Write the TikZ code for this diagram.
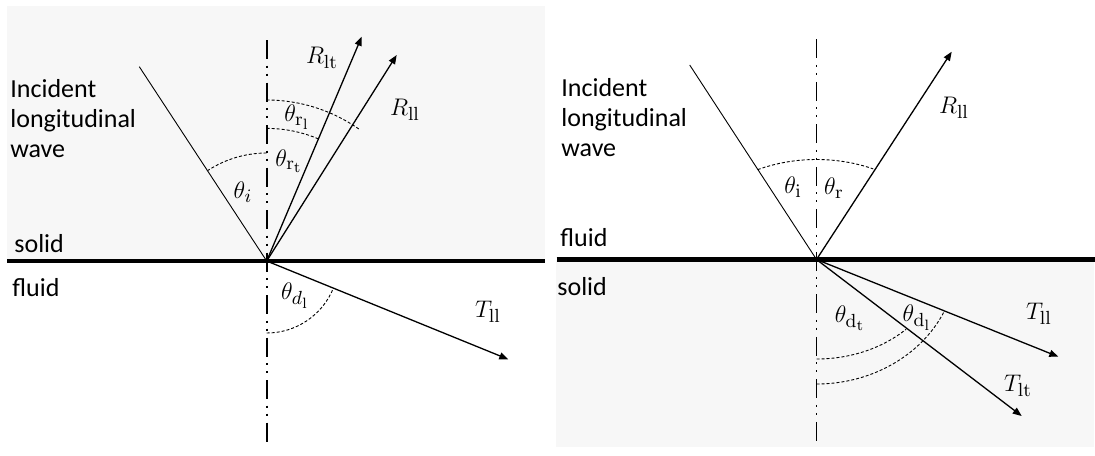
\RequirePackage{fix-cm}
\documentclass[tikz,border=0pt]{standalone}
\usepackage[no-math]{fontspec}
\setmainfont{Carlito}
\DeclareMathSizes{12}{12}{9.5}{7.5}
\usetikzlibrary{arrows.meta}

\begin{document}
\begin{tikzpicture}[
    x=0.5pt, y=-0.5pt,
    medium/.style={fill=gray!6, draw=none},
    interface/.style={line width=2.2pt},
    axisline/.style={
        line width=0.9pt,
        dash pattern=on 9.5pt off 3.25pt on 1pt off 3pt on 1pt off 3.5pt
    },
    incident/.style={line width=0.45pt},
    wave/.style={line width=0.65pt, -{Triangle[length=4.5pt,width=3.5pt]}},
    anglearc/.style={line width=0.45pt, dash pattern=on 1.5pt off 1pt},
    txt/.style={font=\fontsize{13}{15}\selectfont, inner sep=0pt},
    sym/.style={font=\fontsize{12}{15}\selectfont, inner sep=0pt}
]
\useasboundingbox (0,0) rectangle (1095,455);

% ---------------------------------------------------------------------------
% Left panel -- solid above, fluid below
% ---------------------------------------------------------------------------
\fill[medium] (7,6) rectangle (545,261);

\coordinate (O1) at (266.7,261);
\coordinate (inc1) at (139.3,66.7);
\coordinate (Rlt1) at (361.7,36.7);
\coordinate (Rll1) at (396.7,55);
\coordinate (Tll1) at (508.3,359.3);
\coordinate (top1) at (266.7,40);
\coordinate (bot1) at (266.7,447);
\coordinate (lft1) at (7,261);
\coordinate (rgt1) at (545,261);

\draw[axisline] (top1) -- (bot1);
\draw[interface] (lft1) -- (rgt1);

\draw[incident] (inc1) -- (O1);
\draw[wave] (O1) -- (Rlt1);
\draw[wave] (O1) -- (Rll1);
\draw[wave] (O1) -- (Tll1);

% angle arcs
\draw[anglearc] (O1) ++(-90:108) arc[start angle=-90, end angle=-123, radius=108];
\draw[anglearc] (O1) ++(-90:161) arc[start angle=-90, end angle=-54.5, radius=161];
\draw[anglearc] (O1) ++(-90:132.6) arc[start angle=-90, end angle=-67, radius=132.6];
\draw[anglearc] (O1) ++(90:72) arc[start angle=90, end angle=22, radius=72];

% labels
\node[txt, align=left, anchor=north west] (wave1) at (10,79)
    {Incident\\longitudinal\\wave};
\node[txt, anchor=base west] (solid1) at (14,252) {solid};
\node[txt, anchor=base west] (fluid1) at (12,296) {fluid};

\node[sym] (thi1) at (243,192) {$\theta_i$};
\node[sym] (thrl1) at (297,117) {$\theta_{\mathrm{r}_\mathrm{l}}$};
\node[sym] (thrt1) at (289,161) {$\theta_{\mathrm{r}_\mathrm{t}}$};
\node[sym] (thdl1) at (295,296) {$\theta_{d_\mathrm{l}}$};
\node[sym] (Rltlab1) at (322,58) {$R_\mathrm{lt}$};
\node[sym] (Rlllab1) at (405,110) {$R_\mathrm{ll}$};
\node[sym] (Tlllab1) at (488,312) {$T_\mathrm{ll}$};

% ---------------------------------------------------------------------------
% Right panel -- fluid above, solid below
% ---------------------------------------------------------------------------
\fill[medium] (556,259.5) rectangle (1094,447);

\coordinate (O2) at (816.5,259.5);
\coordinate (inc2) at (689.7,65);
\coordinate (Rll2) at (951.7,51.7);
\coordinate (Tll2) at (1058.3,356.7);
\coordinate (Tlt2) at (1021.7,416);
\coordinate (top2) at (816.5,39.3);
\coordinate (bot2) at (816.5,445);
\coordinate (lft2) at (556.7,259.5);
\coordinate (rgt2) at (1095,259.5);

\draw[axisline] (top2) -- (bot2);
\draw[interface] (lft2) -- (rgt2);

\draw[incident] (inc2) -- (O2);
\draw[wave] (O2) -- (Rll2);
\draw[wave] (O2) -- (Tll2);
\draw[wave] (O2) -- (Tlt2);

% angle arcs
\draw[anglearc] (O2) ++(-116:134 and 100)
    arc[start angle=-116, end angle=-65, x radius=134, y radius=100];
\draw[anglearc] (O2) ++(90:125.6 and 99.5)
    arc[start angle=90, end angle=44.5, x radius=125.6, y radius=99.5];
\draw[anglearc] (O2) ++(90:140.5 and 124.5)
    arc[start angle=90, end angle=24.8, x radius=140.5, y radius=124.5];

% labels
\node[txt, align=left, anchor=north west] (wave2) at (561,78)
    {Incident\\longitudinal\\wave};
\node[txt, anchor=base west] (fluid2) at (560,246) {fluid};
\node[txt, anchor=base west] (solid2) at (557,295) {solid};

\node[sym] (thi2) at (793,187) {$\theta_\mathrm{i}$};
\node[sym] (thr2) at (834,188) {$\theta_\mathrm{r}$};
\node[sym] (thdt2) at (850,318) {$\theta_{\mathrm{d}_\mathrm{t}}$};
\node[sym] (thdl2) at (917,318) {$\theta_{\mathrm{d}_\mathrm{l}}$};
\node[sym] (Rlllab2) at (954,108) {$R_\mathrm{ll}$};
\node[sym] (Tlllab2) at (1039,314) {$T_\mathrm{ll}$};
\node[sym] (Tltlab2) at (1018,386) {$T_\mathrm{lt}$};

\end{tikzpicture}
\end{document}
